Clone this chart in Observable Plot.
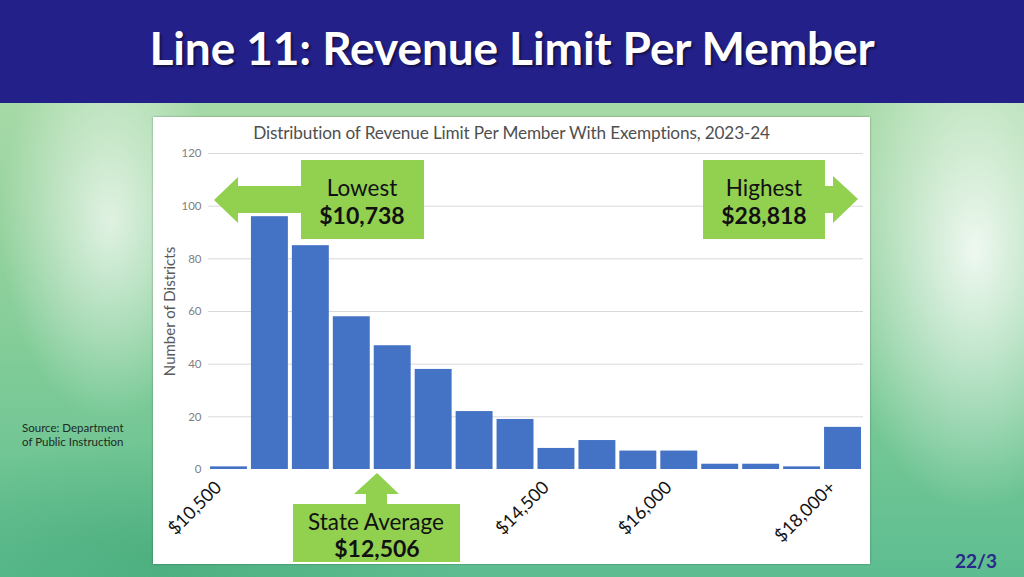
<!DOCTYPE html>
<html>
<head>
<meta charset="utf-8">
<script src="https://cdn.jsdelivr.net/npm/d3@7"></script>
<script src="https://cdn.jsdelivr.net/npm/@observablehq/plot@0.6"></script>
<style>
  html, body { margin: 0; padding: 0; }
  body {
    width: 1024px; height: 577px; overflow: hidden; position: relative;
    font-family: Lato, "Open Sans", sans-serif;
    background:
      radial-gradient(ellipse 140px 260px at 975px 250px, rgba(255,255,255,0.85), rgba(255,255,255,0) 100%),
      radial-gradient(ellipse 110px 200px at 110px 220px, rgba(255,255,255,0.7), rgba(255,255,255,0) 100%),
      radial-gradient(ellipse 300px 120px at 160px 560px, rgba(60,160,110,0.5), rgba(60,160,110,0) 100%),
      linear-gradient(to bottom, #b2dfae 0%, #9ad4a0 35%, #7ecb97 65%, #5dbd90 100%);
  }
  #header {
    position: absolute; left: 0; top: 0; width: 1024px; height: 103px;
    background: #23208a;
  }
  #header h1 {
    margin: 0; position: absolute; left: 0; width: 1024px; top: 21px;
    text-align: center; color: #fff; font-family: Lato; font-weight: 700;
    font-size: 46px; line-height: 54px; letter-spacing: -0.1px;
    text-shadow: 2px 2px 2px rgba(0,0,0,0.45);
  }
  #panel {
    position: absolute; left: 153px; top: 117px; width: 717px; height: 447px;
    background: #fff; box-shadow: 0 0 2px rgba(0,0,0,0.35);
  }
  #ctitle {
    position: absolute; left: 0; top: 5px; width: 717px; text-align: center;
    font-family: Lato; font-size: 17.2px; color: #4f4f4f; letter-spacing: -0.15px;
  }
  #chart { position: absolute; left: 0; top: 0; }
  #overlay { position: absolute; left: 0; top: 0; }
  .src {
    position: absolute; left: 22px; top: 421px; font-family: Lato; font-size: 11.5px;
    line-height: 14px; color: #1d2a22;
  }
  .page {
    position: absolute; left: 955px; top: 549px; font-family: Lato; font-weight: 700;
    font-size: 19px; color: #2a2a8c;
  }
</style>
</head>
<body>
<div id="header"><h1>Line 11: Revenue Limit Per Member</h1></div>
<div id="panel">
  <div id="ctitle">Distribution of Revenue Limit Per Member With Exemptions, 2023-24</div>
  <div id="chart"></div>
</div>
<div class="src">Source: Department<br>of Public Instruction</div>
<div class="page">22/3</div>
<svg id="overlay" width="1024" height="577">
  <g fill="#92d050">
    <polygon points="214,200 238,177 238,186 301,186 301,213 238,213 238,223"></polygon>
    <rect x="301" y="160" width="123" height="79"></rect>
    <polygon points="825,186 833,186 833,176 858,199 833,223 833,213 825,213"></polygon>
    <rect x="703" y="160" width="122" height="79"></rect>
    <polygon points="377,473 399,494 387,494 387,504 366,504 366,494 354,494"></polygon>
    <rect x="293" y="504" width="167" height="58"></rect>
  </g>
  <g font-family="Lato" fill="#111" text-anchor="middle">
    <text x="362" y="196" font-size="22.5">Lowest</text>
    <text x="362" y="224" font-size="23" font-weight="700">$10,738</text>
    <text x="764" y="196" font-size="22.5">Highest</text>
    <text x="764" y="224" font-size="23" font-weight="700">$28,818</text>
    <text x="376" y="530" font-size="22.5">State Average</text>
    <text x="377" y="557" font-size="23" font-weight="700">$12,506</text>
  </g>
</svg>
<script>
// Bin lower edges ($500 bins; last bin is $18,000+)
const binStart = [10500, 11000, 11500, 12000, 12500, 13000, 13500, 14000,
                  14500, 15000, 15500, 16000, 16500, 17000, 17500, 18000];
const binWidth = 500;
// Number of districts in each bin
const districtCounts = [1, 96, 85, 58, 47, 38, 22, 19, 8, 11, 7, 7, 2, 2, 1, 16];
// X tick labels
const xTickValues = [10500, 14500, 16000, 18000];
const xTickLabels = ["$10,500", "$14,500", "$16,000", "$18,000+"];
// Y ticks
const yTickValues = [0, 20, 40, 60, 80, 100, 120];

const data = binStart.map((s, i) => ({x1: s, x2: s + binWidth, count: districtCounts[i]}));
const xTicks = xTickValues.map((v, i) => ({v, label: xTickLabels[i]}));

const chart = Plot.plot({
  width: 717,
  height: 447,
  marginLeft: 55,
  marginRight: 7,
  marginTop: 36,
  marginBottom: 95,
  style: {background: "transparent", fontFamily: "Lato"},
  x: {domain: [10500, 18500], axis: null},
  y: {domain: [0, 120]},
  marks: [
    Plot.gridY(yTickValues.filter(d => d > 0), {stroke: "#d9d9d9", strokeOpacity: 1, strokeWidth: 1}),
    Plot.rectY(data, {x1: "x1", x2: "x2", y: "count", fill: "#4472c4", insetLeft: 2, insetRight: 2}),
    Plot.axisY(yTickValues, {tickSize: 0, tickPadding: 7, fontSize: 11.5, fill: "#808080", label: null}),
    Plot.text(xTicks, {x: "v", y: () => 0, text: "label", rotate: -45, textAnchor: "end", lineAnchor: "middle",
                       dx: 10, dy: 15, fontSize: 18, fill: "#111"}),
    Plot.text(["Number of Districts"], {frameAnchor: "left", textAnchor: "middle", rotate: -90, dx: -38, fontSize: 15, fill: "#595959"})
  ]
});
document.getElementById("chart").appendChild(chart);
</script>
</body>
</html>
